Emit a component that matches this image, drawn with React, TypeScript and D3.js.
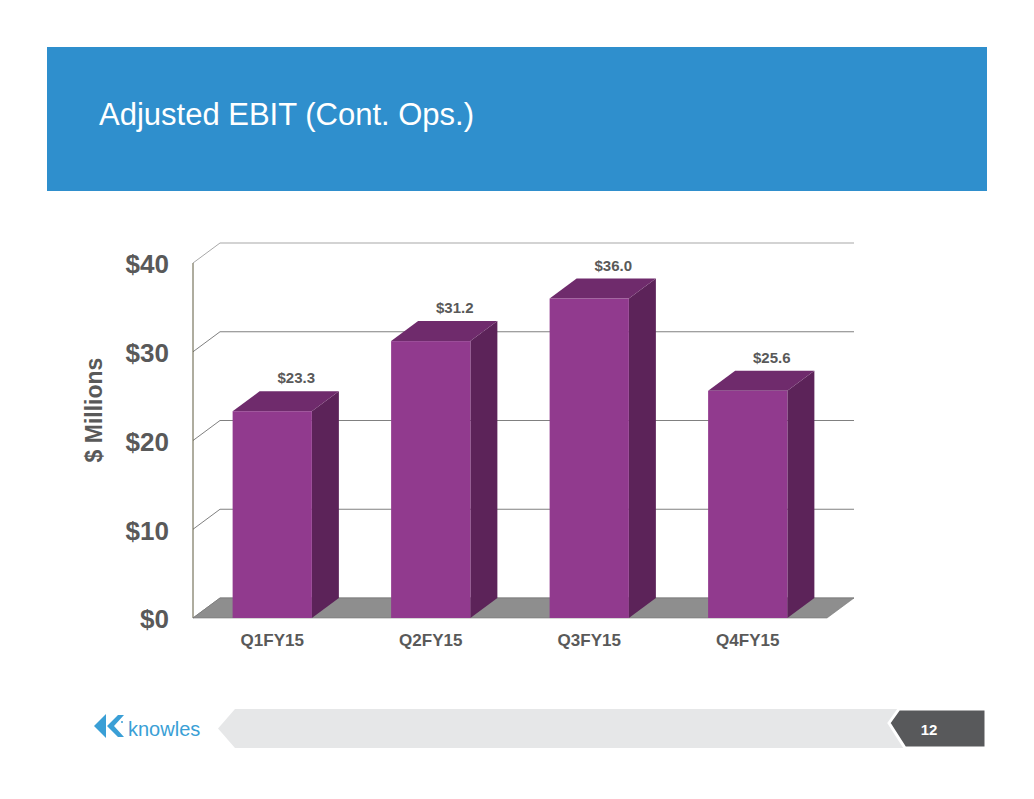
import { useEffect, useRef } from 'react'
import * as d3 from 'd3'

const quarters = ['Q1FY15', 'Q2FY15', 'Q3FY15', 'Q4FY15']
const ebit = [23.3, 31.2, 36.0, 25.6]
const yTicks = [0, 10, 20, 30, 40]

const FONT = '"Liberation Sans", Arial, Helvetica, sans-serif'

export default function App() {
  const svgRef = useRef<SVGSVGElement>(null)

  useEffect(() => {
    if (!svgRef.current) return
    const svg = d3.select(svgRef.current)
    svg.selectAll('*').remove()

    const width = 1034
    const height = 799
    svg.attr('width', width).attr('height', height)

    // header banner
    svg.append('rect').attr('x', 47).attr('y', 47).attr('width', 940).attr('height', 144).attr('fill', '#2F8FCD')
    svg.append('text')
      .attr('x', 99).attr('y', 125)
      .attr('font-family', FONT).attr('font-size', 31).attr('fill', '#fff')
      .text('Adjusted EBIT (Cont. Ops.)')

    // 3d offset of the chart depth
    const dx = 27
    const dy = -20

    const x = d3.scaleBand<string>().domain(quarters).range([193, 827]).paddingInner(0.5).paddingOuter(0.25)
    const y = d3.scaleLinear().domain([0, 40]).range([618, 263])

    const g = svg.append('g')

    // back wall gridlines + side wall diagonals
    yTicks.forEach((t) => {
      const yy = y(t)
      const col = t === 40 ? '#A8A8A8' : '#808080'
      g.append('line')
        .attr('x1', 193 + dx).attr('x2', 827 + dx)
        .attr('y1', yy + dy).attr('y2', yy + dy)
        .attr('stroke', col).attr('stroke-width', 1.2)
      g.append('line')
        .attr('x1', 193).attr('x2', 193 + dx)
        .attr('y1', yy).attr('y2', yy + dy)
        .attr('stroke', col).attr('stroke-width', 1)
    })

    // left axis line
    g.append('line')
      .attr('x1', 193).attr('x2', 193)
      .attr('y1', y(40)).attr('y2', y(0))
      .attr('stroke', '#5E5B3E').attr('stroke-width', 1)

    // floor
    const y0 = y(0)
    g.append('path')
      .attr('d', `M193,${y0}L827,${y0}L${827 + dx},${y0 + dy}L${193 + dx},${y0 + dy}Z`)
      .attr('fill', '#8E8E8E')
      .attr('stroke', '#777').attr('stroke-width', 0.6)

    // bars
    const bars = g.selectAll('.bar')
      .data(quarters.map((q, i) => ({ q, v: ebit[i] })))
      .enter()
      .append('g')
      .attr('class', 'bar')

    bars.append('path')
      .attr('d', (d) => {
        const x1 = x(d.q)! + x.bandwidth()
        const yv = y(d.v)
        return `M${x1},${yv}L${x1 + dx},${yv + dy}L${x1 + dx},${y0 + dy}L${x1},${y0}Z`
      })
      .attr('fill', '#5C2359')

    bars.append('path')
      .attr('d', (d) => {
        const x0 = x(d.q)!
        const x1 = x0 + x.bandwidth()
        const yv = y(d.v)
        return `M${x0},${yv}L${x0 + dx},${yv + dy}L${x1 + dx},${yv + dy}L${x1},${yv}Z`
      })
      .attr('fill', '#6F2B6C')

    bars.append('rect')
      .attr('x', (d) => x(d.q)!)
      .attr('y', (d) => y(d.v))
      .attr('width', x.bandwidth())
      .attr('height', (d) => y0 - y(d.v))
      .attr('fill', '#913A8E')

    bars.append('text')
      .attr('x', (d) => x(d.q)! + x.bandwidth() / 2 + 24)
      .attr('y', (d) => y(d.v) + dy - 8)
      .attr('text-anchor', 'middle')
      .attr('font-family', FONT).attr('font-size', 15).attr('font-weight', 700)
      .attr('fill', '#595959')
      .text((d) => d3.format('$.1f')(d.v))

    // y tick labels
    g.selectAll('.ytick')
      .data(yTicks)
      .enter()
      .append('text')
      .attr('x', 169)
      .attr('y', (d) => y(d))
      .attr('dy', '0.4em')
      .attr('text-anchor', 'end')
      .attr('font-family', FONT).attr('font-size', 26).attr('font-weight', 700)
      .attr('fill', '#595959')
      .text((d) => `$${d}`)

    // y axis title
    g.append('text')
      .attr('transform', 'translate(102,410) rotate(-90)')
      .attr('text-anchor', 'middle')
      .attr('font-family', FONT).attr('font-size', 23).attr('font-weight', 700)
      .attr('fill', '#595959')
      .text('$ Millions')

    // category labels
    g.selectAll('.xlab')
      .data(quarters)
      .enter()
      .append('text')
      .attr('x', (d) => x(d)! + x.bandwidth() / 2)
      .attr('y', 646)
      .attr('text-anchor', 'middle')
      .attr('font-family', FONT).attr('font-size', 17).attr('font-weight', 700)
      .attr('fill', '#595959')
      .text((d) => d)

    // footer
    const f = svg.append('g')
    f.append('path')
      .attr('d', 'M218,728.5L235,709L905,709L905,748L235,748Z')
      .attr('fill', '#E6E7E8')
    f.append('path')
      .attr('d', 'M889,723L899,709L986,709L986,748L905,748Z')
      .attr('fill', '#58595B')
      .attr('stroke', '#fff').attr('stroke-width', 3).attr('stroke-linejoin', 'miter')
    f.append('rect').attr('x', 986).attr('y', 707).attr('width', 4).attr('height', 43).attr('fill', '#fff')
    f.append('text')
      .attr('x', 929).attr('y', 735)
      .attr('text-anchor', 'middle')
      .attr('font-family', FONT).attr('font-size', 15).attr('font-weight', 700)
      .attr('fill', '#fff')
      .text('12')

    // knowles logo
    const logoCol = '#3A9FD6'
    f.append('path').attr('d', 'M94,726L106,714L106,738Z').attr('fill', logoCol)
    f.append('path').attr('d', 'M107,726L118,715L124,715L114,726L124,737L118,737Z').attr('fill', logoCol)
    f.append('circle').attr('cx', 122).attr('cy', 722).attr('r', 1).attr('fill', logoCol)
    f.append('text')
      .attr('x', 128).attr('y', 736)
      .attr('font-family', FONT).attr('font-size', 20)
      .attr('fill', logoCol)
      .text('knowles')
  }, [])

  return (
    <div style={{ position: 'absolute', left: 0, top: 0 }}>
      <svg ref={svgRef}></svg>
    </div>
  )
}
